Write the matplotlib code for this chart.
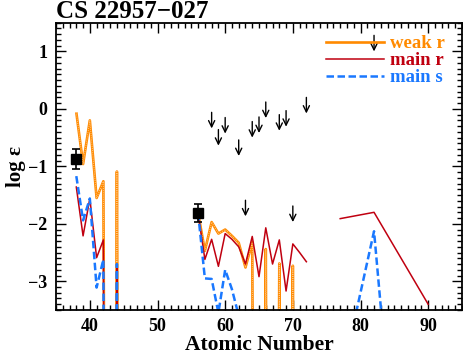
import numpy as np
import matplotlib
matplotlib.use("Agg")
import matplotlib.pyplot as plt
from matplotlib.lines import Line2D
from matplotlib.ticker import MultipleLocator

# ---- data ----
LOW = -30.0  # model values far below the plotted range
nan = np.nan

z_weak_r = [38, 39, 40, 41, 42, 43, 44, 45, 46,
            56, 57, 58, 59, 60, 61, 62, 63, 64, 65, 66, 67, 68, 69, 70, 71]
weak_r = [-0.06, -0.96, -0.20, -1.55, -1.26, LOW, -1.09, LOW, nan,
          -1.81, -2.47, -1.97, -2.17, -2.10, -2.21, -2.33, -2.76, -2.32, LOW, -2.44, LOW, -2.69, LOW, -2.73, LOW]

z_main_r = [38, 39, 40, 41, 42, 43, 44, 45, 46,
            56, 57, 58, 59, 60, 61, 62, 63, 64, 65, 66, 67, 68, 69, 70, 71, 72, 73,
            77, 82, 90]
main_r = [-1.36, -2.21, -1.56, -2.59, -2.28, LOW, -2.70, LOW, nan,
          -1.81, -2.62, -2.27, -2.74, -2.17, -2.27, -2.40, -2.70, -2.22, -2.92, -2.07, -2.70, -2.28, -3.17, -2.35, -2.50, -2.66, nan,
          -1.91, -1.80, -3.40]

z_main_s = [38, 39, 40, 41, 42, 43, 44, 45, 46,
            56, 57, 58, 59, 60, 61, 62, 63, 64,
            77, 82, 83, 84]
main_s = [-1.17, -1.94, -1.56, -3.11, -2.62, LOW, -2.70, LOW, nan,
          -1.81, -2.95, -2.96, -3.55, -2.80, -3.14, -3.60, LOW, nan,
          -4.80, -2.13, -3.45, LOW]

# observed abundances (Sr, Ba)
z_obs = [38, 56]
obs = [-0.87, -1.81]
obs_err = [0.18, 0.15]

# upper limits
z_lim = [58, 59, 60, 62, 63, 64, 65, 66, 68, 69, 70, 72, 82]
lim = [-0.06, -0.36, -0.15, -0.54, -1.59, -0.22, -0.14, 0.12, -0.10, -0.03, -1.69, 0.20, 1.28]

ORANGE = "#FF8A00"
RED = "#C00010"
BLUE = "#1A78FF"

plt.rcParams['font.family'] = ['Liberation Serif', 'DejaVu Serif']
plt.rcParams['font.weight'] = 'bold'

fig = plt.figure(figsize=(4.64, 3.55), dpi=100)
ax = fig.add_axes([0.1207, 0.1268, 0.875, 0.8092])

ax.plot(z_weak_r, weak_r, color=ORANGE, lw=1.9, solid_capstyle='butt')
ax.plot(z_weak_r, weak_r, color="#FFC888", lw=0.7, ls=(0, (1, 1.2)))
ax.plot(z_main_r, main_r, color=RED, lw=1.1)
ax.plot(z_main_s, main_s, color=BLUE, lw=1.8, ls=(0, (3, 1.4)))

ax.errorbar(z_obs, obs, yerr=obs_err, fmt='s', color='black', ms=7,
            capsize=3, elinewidth=1.2, capthick=1.2, zorder=5)

for z, v in zip(z_lim, lim):
    ax.annotate('', xy=(z, v - 0.28), xytext=(z, v),
                arrowprops=dict(arrowstyle='->,head_length=0.45,head_width=0.22',
                                color='black', lw=1.0, shrinkA=0, shrinkB=0))

ax.set_xlim(35, 95)
ax.set_ylim(-3.5, 1.5)
ax.xaxis.set_major_locator(MultipleLocator(10))
ax.xaxis.set_minor_locator(MultipleLocator(1))
ax.yaxis.set_major_locator(MultipleLocator(1))
ax.yaxis.set_minor_locator(MultipleLocator(0.1))
ax.tick_params(which='both', direction='in', top=True, right=True, width=1.0)
ax.tick_params(which='major', length=7, labelsize=13, pad=6)
ax.tick_params(which='minor', length=3.5)
for s in ax.spines.values():
    s.set_linewidth(1.3)

ax.set_xlabel('Atomic Number', fontsize=15.5, fontweight='bold', labelpad=0)
ax.set_ylabel('log \u03b5', fontsize=15, fontweight='bold', labelpad=2)
ax.set_title('CS 22957\u2212027', loc='left', fontsize=18, fontweight='bold', pad=1)

handles = [Line2D([], [], color=ORANGE, lw=1.9),
           Line2D([], [], color=RED, lw=1.1),
           Line2D([], [], color=BLUE, lw=1.8, ls=(0, (3, 1.4)))]
leg = ax.legend(handles, ['weak r', 'main r', 'main s'], loc='upper right',
                bbox_to_anchor=(0.976, 0.983),
                frameon=False, fontsize=13.5, handlelength=3.1, handletextpad=0.32,
                labelspacing=0.0, borderaxespad=0.0,
                labelcolor=[ORANGE, RED, BLUE])

fig.savefig('out.png', dpi=100)
